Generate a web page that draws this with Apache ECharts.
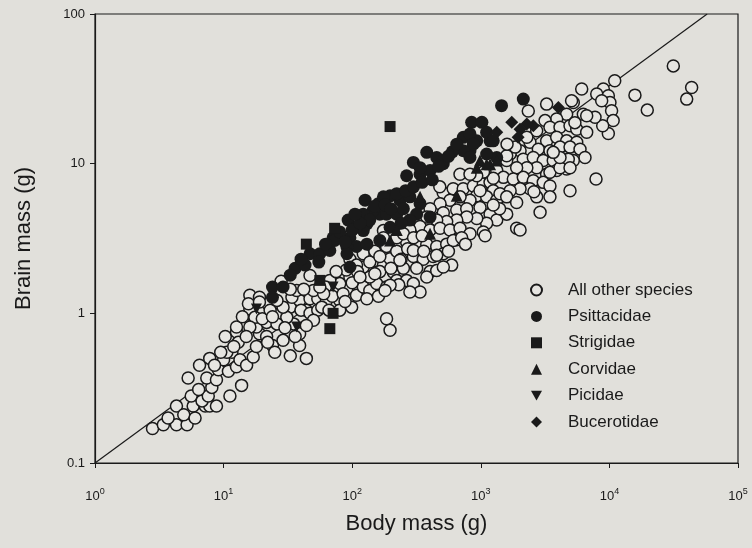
<!DOCTYPE html>
<html><head><meta charset="utf-8">
<script src="https://cdn.jsdelivr.net/npm/echarts@6/dist/echarts.min.js"></script>
<style>html,body{margin:0;padding:0;background:#e1e0db;}#c{width:752px;height:548px;}</style>
</head><body><div id="c"></div><script>
// ---- data (body mass g, brain mass g) ----
const xTickExponents = [0, 1, 2, 3, 4, 5];
const yTickLabels = ['0.1', '1', '10', '100'];
const seriesNames = ['All other species', 'Psittacidae', 'Strigidae', 'Corvidae', 'Picidae', 'Bucerotidae'];

const otherSpecies = [
 [2.8,0.17],[3.4,0.18],[4.3,0.18],[5.2,0.18],[3.7,0.20],[4.3,0.24],[4.9,0.21],[5.8,0.24],[6.0,0.20],[7.2,0.24],
 [7.8,0.24],[8.8,0.24],[5.6,0.28],[6.8,0.26],[7.6,0.28],[6.4,0.31],[8.1,0.32],[5.3,0.37],[7.4,0.37],[8.8,0.36],
 [11.2,0.28],[13.8,0.33],[6.5,0.45],[7.8,0.50],[9.1,0.42],[10.9,0.41],[10,0.49],[11.6,0.55],[12.6,0.44],[13.4,0.49],
 [10.3,0.70],[12.6,0.75],[13,0.64],[10.6,0.55],[15.1,0.45],[17,0.51],[18,0.60],[19,0.73],[17.5,0.90],[16,1.07],
 [16,1.32],[22,1.16],[24,0.61],[25,0.55],[21.6,0.70],[27.5,1.0],[33,1.10],[33,0.52],[39,0.61],[39,0.73],
 [44,0.50],[35,0.85],[31,0.94],[39,1.22],[18,0.81],[21.6,0.87],[26,0.85],[29,1.10],[19,1.28],[44,1.05],
 [15.6,1.16],[19,1.19],[17.5,0.94],[20,0.92],[16,0.81],[12.6,0.81],[15,0.70],[23,1.05],[26,1.22],[34,1.28],
 [40,1.05],[47,1.25],[47,1.0],[54,1.25],[54,1.05],[50,0.90],[29,0.66],[22,0.64],[44,0.83],[63,1.22],
 [71,1.39],[80,1.22],[91,1.46],[99,1.10],[80,1.05],[108,1.32],[122,1.50],[137,1.42],[155,1.58],[155,1.88],
 [175,2.09],[197,2.32],[209,1.88],[222,1.66],[185,1.50],[137,1.75],[122,2.04],[175,3.57],[185,0.92],[197,0.77],
 [80,1.58],[96,1.74],[67,1.66],[50,1.42],[37,1.42],[28,1.64],[47,1.79],[62,1.50],
 [96,2.3],[108,2.1],[122,2.5],[137,2.2],[150,2.6],[164,2.4],[185,2.8],[110,1.9],[90,1.95],[75,1.9],
 [70,1.3],[60,1.35],[85,1.35],[100,1.6],[115,1.75],[130,1.25],[160,1.3],[58,1.1],[66,1.05],[88,1.2],
 [42,1.45],[56,1.5],[33,1.45],[24,0.95],[30,0.8],[36,0.7],[14,0.95],[12,0.6],[9.5,0.55],[8.5,0.45],
 [510,6.4],[610,6.8],[730,6.8],[875,7.1],[1045,7.3],[1180,7.5],[1250,6.6],[930,6.1],[1110,6.0],[1330,5.7],
 [824,5.7],[690,6.0],[576,5.7],[482,5.4],[403,5.0],[511,4.7],[650,4.9],[777,5.0],[986,5.1],[1180,4.6],
 [1330,4.2],[1110,4.0],[930,4.3],[777,4.4],[650,4.2],[543,4.1],[454,4.2],[380,4.4],[337,3.8],[403,3.6],
 [482,3.7],[576,3.6],[689,3.7],[824,3.4],[1045,3.5],[281,3.6],[265,3.0],[317,2.9],[380,2.9],[454,2.8],
 [543,2.9],[650,3.1],[299,2.4],[357,2.3],[427,2.4],[511,2.5],[594,2.1],[222,2.6],[164,1.9],[250,2.0],
 [317,2.0],[403,1.9],[175,3.2],[222,3.2],[250,3.4],[300,3.2],[350,3.3],[270,2.7],[240,2.3],[200,2.0],
 [265,1.66],[299,1.58],[337,1.39],[281,1.39],[230,1.55],[197,1.54],[180,1.42],[380,1.75],[454,1.93],[511,2.04],
 [454,2.44],[611,3.07],[710,3.2],[1080,3.3],[299,2.63],[235,2.26],[150,1.84],[360,2.6],[560,2.6],[760,2.9],
 [6090,31.5],[5240,25.6],[6270,21.4],[4650,21.4],[3890,19.9],[3250,25],[2340,22.5],[3160,19.4],[3450,17.5],[4130,17.5],
 [4940,17.9],[5570,17],[6660,16.2],[2720,16.6],[3250,14.2],[3890,15],[4650,14.2],[5570,13.9],[2410,13.9],[2800,12.5],
 [3450,12.2],[4130,12.9],[4940,12.9],[5910,12.5],[6460,11],[2020,12.2],[1690,11.6],[2140,10.7],[2560,11],[3060,10.5],
 [3660,10.5],[4380,10.7],[5240,10.5],[4650,9.2],[3890,9.0],[3250,8.5],[2720,9.4],[2280,9.4],[1900,9.4],[1590,10.5],
 [1330,9.0],[1500,8.1],[1790,7.9],[2140,8.1],[2560,7.7],[3060,7.5],[3450,7.1],[2410,6.8],[2720,6.0],[3450,6.0],
 [4940,6.6],[2020,6.8],[1690,6.6],[1410,6.3],[986,6.6],[480,7.0],[1590,6.0],[1900,5.5],[1250,8.0],[1050,8.8],
 [11000,35.8],[31400,45],[43600,32.3],[39900,27],[15800,28.7],[19700,22.8],[8970,31.5],[7970,29.2],[9810,28.4],[10100,25.6],
 [8710,26.3],[10400,22.6],[10700,19.4],[9810,15.9],[8870,17.9],[7730,20.4],[6660,20.9],[5080,26.3],[7870,7.9],[2890,4.73],
 [5390,18.8],[4790,10.7],[2590,6.5],[3450,8.75],[4130,9.4],[4940,9.4],[4130,11],[3660,11.9],[689,8.5],[930,8.3],
 [824,8.5],[2280,15],[1850,12.9],[1590,11.3],[1600,13.5],[1900,3.7],[2020,3.6],[1590,4.6],[1400,5.0],[1250,5.3]
];
const psittacidae = [
 [299,10.2],[265,8.3],[126,5.7],[160,5.4],[197,6.1],[235,5.7],[93,4.2],[137,4.4],[164,4.6],[380,11.9],
 [454,11],[511,10],[337,8.5],[403,9.0],[222,6.3],[175,6.0],[146,4.9],[122,4.6],[71,3.2],[96,3.2],
 [108,2.8],[130,3.96],[185,4.6],[222,4.6],[281,6.0],[337,5.4],[317,4.6],[403,4.4],[731,15],[930,14.2],
 [1180,14.2],[824,12.2],[1330,11],[1450,24.4],[2140,27],[849,18.9],[1020,18.9],[824,15.8],[1110,16.2],[875,13.5],
 [1250,14.2],[731,12.2],[511,10.5],[337,9.4],[824,11],[1110,11.6],[24,1.5],[29,1.5],[24,1.28],[36,2.0],
 [43,2.1],[47,2.5],[56,2.5],[67,2.63],[73,3.07],[91,2.77],[122,3.57],[137,4.2],[197,3.76],[164,3.07],
 [96,2.04],[130,2.9],[108,3.76],[91,2.5],[80,3.5],[88,3.0],[100,3.6],[115,4.0],[105,4.6],[150,5.2],
 [180,5.3],[200,5.0],[250,5.0],[260,6.6],[300,7.0],[350,7.5],[420,7.8],[470,9.6],[600,12.0],[650,13.5],
 [62,2.9],[55,2.2],[40,2.3],[33,1.8],[280,4.2],[240,4.0],[560,11.2]
];
const strigidae = [[197,17.7],[71,1.0],[67,0.79],[56,1.66],[73,3.7],[44,2.9]];
const corvidae = [[403,3.4],[650,6.1],[222,3.6],[197,3.07],[337,6.0],[986,10.5],[1180,9.9],[1110,9.9],[1330,10.5],[930,9.4]];
const picidae = [[18,1.07],[37,0.81],[71,1.5]];
const bucerotidae = [[4010,23.7],[2560,17.9],[2280,18.4],[2020,17],[1950,15],[1740,18.9],[1330,16.2]];
const fitLine = [[1,0.1],[57544,100]];

// ---- chart ----
const FONT = 'Liberation Sans, Arial, sans-serif';
const INK = '#1a1a1a';
const BG = '#e1e0db';
const downTri = 'path://M0,0 L10,0 L5,9 Z';

const chart = echarts.init(document.getElementById('c'), null, {renderer: 'canvas'});
function filled(name, data, symbol, size) {
  return {name, type: 'scatter', data, symbol, symbolSize: size,
    itemStyle: {color: INK, borderColor: INK, borderWidth: 0, opacity: 1}, z: 3};
}
chart.setOption({
  backgroundColor: BG,
  animation: false,
  grid: {left: 95, right: 14, top: 14, bottom: 85, show: true, borderColor: INK, borderWidth: 1.2, backgroundColor: 'transparent'},
  xAxis: {
    type: 'log', logBase: 10, min: 1, max: 100000,
    axisLine: {lineStyle: {color: INK, width: 1.2}},
    axisTick: {length: 5, lineStyle: {color: INK, width: 1}},
    splitLine: {show: false}, minorTick: {show: false},
    axisLabel: {
      margin: 24, color: INK, fontFamily: FONT,
      formatter: v => {
        const e = Math.round(Math.log10(v));
        return xTickExponents.indexOf(e) >= 0 ? '{b|10}{s|' + e + '}' : '';
      },
      rich: {
        b: {fontSize: 13, fontFamily: FONT, color: INK, lineHeight: 16, verticalAlign: 'bottom'},
        s: {fontSize: 9, fontFamily: FONT, color: INK, lineHeight: 10, verticalAlign: 'top'}
      }
    },
    name: 'Body mass (g)', nameLocation: 'middle', nameGap: 50,
    nameTextStyle: {fontSize: 22, color: INK, fontFamily: FONT}
  },
  yAxis: {
    type: 'log', logBase: 10, min: 0.1, max: 100,
    axisLine: {lineStyle: {color: INK, width: 1.2}},
    axisTick: {length: 5, lineStyle: {color: INK, width: 1}},
    splitLine: {show: false}, minorTick: {show: false},
    axisLabel: {
      margin: 10, fontSize: 13, color: INK, fontFamily: FONT,
      formatter: v => yTickLabels[Math.round(Math.log10(v)) + 1] || ''
    },
    name: 'Brain mass (g)', nameLocation: 'middle', nameGap: 60,
    nameTextStyle: {fontSize: 22, color: INK, fontFamily: FONT}
  },
  legend: {
    data: seriesNames, orient: 'vertical', left: 525, top: 275,
    itemWidth: 11, itemHeight: 11, itemGap: 6.4,
    textStyle: {fontSize: 17, color: INK, fontFamily: FONT, lineHeight: 20, padding: [0, 0, 0, 21]}
  },
  series: [
    {name: seriesNames[0], type: 'scatter', data: otherSpecies, symbol: 'circle', symbolSize: 12,
     itemStyle: {color: '#e6e5e1', borderColor: INK, borderWidth: 1.5, opacity: 1}, z: 2},
    filled(seriesNames[1], psittacidae, 'circle', 13),
    filled(seriesNames[2], strigidae, 'rect', 11),
    filled(seriesNames[3], corvidae, 'triangle', 12),
    filled(seriesNames[4], picidae, downTri, 11),
    filled(seriesNames[5], bucerotidae, 'diamond', 13),
    {type: 'line', data: fitLine, symbol: 'none', clip: true, silent: true,
     lineStyle: {color: INK, width: 1.2}, z: 1}
  ]
});
</script></body></html>
